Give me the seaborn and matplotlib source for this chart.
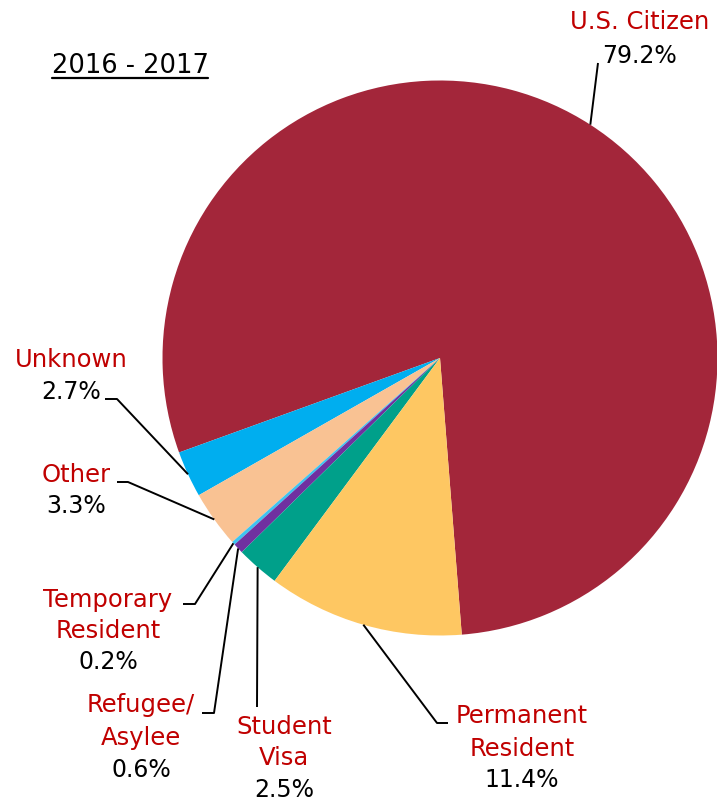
import matplotlib
matplotlib.use("Agg")
import matplotlib.pyplot as plt
import seaborn as sns
import numpy as np

# ---- data ----
categories = ["U.S. Citizen", "Unknown", "Other", "Temporary Resident",
              "Refugee/Asylee", "Student Visa", "Permanent Resident"]
values = [79.2, 2.7, 3.3, 0.2, 0.6, 2.5, 11.4]
name_lines = [["U.S. Citizen"], ["Unknown"], ["Other"], ["Temporary", "Resident"],
              ["Refugee/", "Asylee"], ["Student", "Visa"], ["Permanent", "Resident"]]
pct_labels = ["79.2%", "2.7%", "3.3%", "0.2%", "0.6%", "2.5%", "11.4%"]
title = "2016 - 2017"

# ---- style ----
colors = ["#A3263A", "#00AEEF", "#F9C293", "#3EC3F0", "#7030A0", "#00A08A", "#FEC762"]
label_red = "#C00000"

# label layout (pixel coords): x center, baselines of each line
label_x = [640, 71, 76, 108, 141, 284, 522]
label_baselines = [[29, 63], [367, 399], [482, 513], [607, 638, 669],
                   [712, 745, 777], [734, 765, 797], [723, 756, 787]]
leader_starts = [[(598, 63)], [(105, 399), (117, 399)], [(117, 482), (128, 482)],
                 [(183, 604), (195, 604)], [(202, 713), (214, 713)],
                 [(257, 707)], [(448, 723), (437, 723)]]

sns.set_theme(style="white")
plt.rcParams['font.family'] = ['DejaVu Sans']

W, H = 717, 801
fig = plt.figure(figsize=(W / 100, H / 100), dpi=100)
ax = fig.add_axes([0, 0, 1, 1])

cx, cy, R = 440, 358, 277.5
wedges, _ = ax.pie(values, colors=colors, startangle=85.5, counterclock=False,
                   center=(cx, cy), radius=R, normalize=True,
                   wedgeprops=dict(linewidth=0, antialiased=True))
ax.set_xlim(0, W)
ax.set_ylim(H, 0)
ax.set_aspect('equal')
ax.axis('off')

for i, w in enumerate(wedges):
    theta = np.deg2rad((w.theta1 + w.theta2) / 2)
    ex, ey = cx + R * np.cos(theta), cy + R * np.sin(theta)
    pts = leader_starts[i] + [(ex, ey)]
    xs = [p[0] for p in pts]
    ys = [p[1] for p in pts]
    ax.plot(xs, ys, color="black", lw=1.4, solid_capstyle="butt", zorder=3)
    lines = name_lines[i] + [pct_labels[i]]
    for j, (txt, yb) in enumerate(zip(lines, label_baselines[i])):
        is_pct = j == len(lines) - 1
        ax.text(label_x[i], yb, txt, ha="center", va="baseline",
                fontsize=17 if is_pct else 17.5,
                color="black" if is_pct else label_red, zorder=4)

ax.text(130, 73, title, ha="center", va="baseline", fontsize=18.5, color="black")
ax.plot([52, 208], [78, 78], color="black", lw=1.6)

fig.savefig("out.png", dpi=100)
